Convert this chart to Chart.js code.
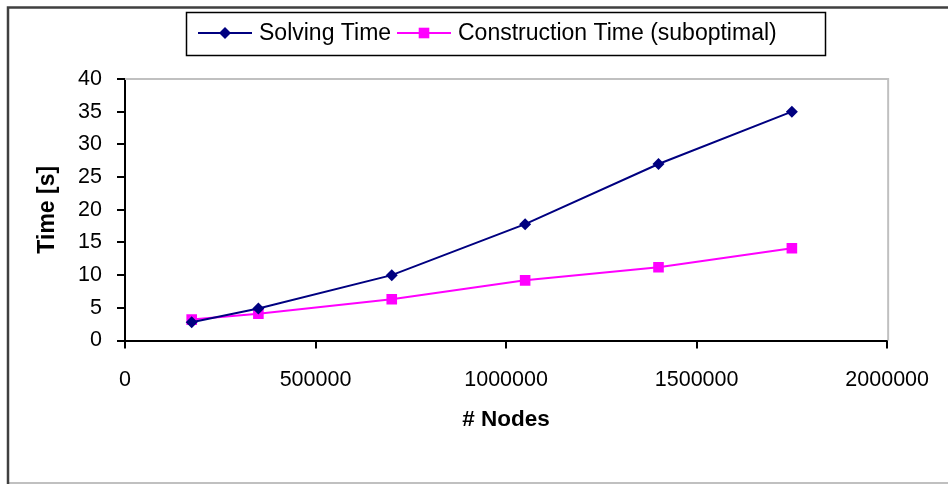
<!DOCTYPE html>
<html>
<head>
<meta charset="utf-8">
<script src="https://cdn.jsdelivr.net/npm/chart.js@4/dist/chart.umd.min.js"></script>
<style>
  html, body { margin: 0; padding: 0; background: #fff; }
  #wrap { width: 948px; height: 485px; }
</style>
</head>
<body>
<div id="wrap"><canvas id="c" width="948" height="485"></canvas></div>
<script>
// Problem size (number of nodes) and the measured times in seconds
const nodes = [175000, 350000, 700000, 1050000, 1400000, 1750000];
const solvingTime = [2.8, 4.9, 10.0, 17.8, 27.0, 35.0];
const constructionTime = [3.2, 4.1, 6.3, 9.2, 11.2, 14.1];
const seriesNames = ['Solving Time', 'Construction Time (suboptimal)'];
const xTicks = [0, 500000, 1000000, 1500000, 2000000];
const yTicks = [0, 5, 10, 15, 20, 25, 30, 35, 40];
const xTitle = '# Nodes';
const yTitle = 'Time [s]';

const FONT = "'Liberation Sans', Arial, Helvetica, sans-serif";
const NAVY = '#000080';
const MAGENTA = '#FF00FF';

function toPoints(xs, ys) {
  return xs.map((x, i) => ({ x: x, y: ys[i] }));
}

function drawMarker(ctx, style, x, y, r, color) {
  ctx.save();
  ctx.fillStyle = color;
  ctx.beginPath();
  if (style === 'rectRot') {
    ctx.moveTo(x, y - r);
    ctx.lineTo(x + r, y);
    ctx.lineTo(x, y + r);
    ctx.lineTo(x - r, y);
  } else {
    const s = r * Math.SQRT1_2;
    ctx.rect(x - s, y - s, 2 * s, 2 * s);
  }
  ctx.closePath();
  ctx.fill();
  ctx.restore();
}

// Outer frame, plot-area outline and the boxed legend
const decor = {
  id: 'decor',
  beforeDraw(chart) {
    const ctx = chart.ctx;
    ctx.save();
    ctx.fillStyle = '#fff';
    ctx.fillRect(0, 0, chart.width, chart.height);
    ctx.strokeStyle = '#c0c0c0';
    ctx.lineWidth = 2;
    ctx.beginPath();
    ctx.moveTo(8, 483);
    ctx.lineTo(chart.width, 483);
    ctx.stroke();
    ctx.strokeStyle = '#404040';
    ctx.lineWidth = 2.5;
    ctx.beginPath();
    ctx.moveTo(8, 484);
    ctx.lineTo(8, 7.5);
    ctx.lineTo(chart.width, 7.5);
    ctx.stroke();
    ctx.restore();
  },
  beforeDatasetsDraw(chart) {
    const { ctx, chartArea: a } = chart;
    ctx.save();
    ctx.strokeStyle = '#c0c0c0';
    ctx.lineWidth = 2;
    ctx.beginPath();
    ctx.moveTo(a.left, a.top);
    ctx.lineTo(a.right + 1, a.top);
    ctx.lineTo(a.right + 1, a.bottom);
    ctx.stroke();
    ctx.restore();
  },
  afterDraw(chart) {
    const ctx = chart.ctx;
    ctx.save();
    ctx.strokeStyle = '#000';
    ctx.lineWidth = 1.5;
    ctx.strokeRect(186.5, 12.5, 639, 43);
    const cy = 33;
    const starts = [198, 397];
    ctx.font = '23px ' + FONT;
    ctx.textBaseline = 'middle';
    ctx.textAlign = 'left';
    chart.data.datasets.forEach((ds, i) => {
      const x0 = starts[i];
      ctx.strokeStyle = ds.borderColor;
      ctx.lineWidth = 2;
      ctx.beginPath();
      ctx.moveTo(x0, cy);
      ctx.lineTo(x0 + 54, cy);
      ctx.stroke();
      drawMarker(ctx, ds.pointStyle, x0 + 27, cy, ds.pointRadius, ds.pointBackgroundColor);
      ctx.fillStyle = '#000';
      ctx.fillText(ds.label, x0 + 61, cy + 1);
    });
    ctx.restore();
  }
};

new Chart(document.getElementById('c'), {
  type: 'line',
  data: {
    datasets: [
      {
        label: seriesNames[0],
        data: toPoints(nodes, solvingTime),
        borderColor: NAVY,
        backgroundColor: NAVY,
        pointBackgroundColor: NAVY,
        pointBorderColor: NAVY,
        pointStyle: 'rectRot',
        pointRadius: 6,
        pointBorderWidth: 0,
        borderWidth: 2,
        tension: 0,
        fill: false
      },
      {
        label: seriesNames[1],
        data: toPoints(nodes, constructionTime),
        borderColor: MAGENTA,
        backgroundColor: MAGENTA,
        pointBackgroundColor: MAGENTA,
        pointBorderColor: MAGENTA,
        pointStyle: 'rect',
        pointRadius: 7.5,
        pointBorderWidth: 0,
        borderWidth: 2,
        tension: 0,
        fill: false
      }
    ]
  },
  options: {
    responsive: false,
    animation: false,
    devicePixelRatio: 1,
    layout: { padding: { top: 79, right: 59, bottom: 0, left: 0 } },
    plugins: {
      legend: { display: false },
      tooltip: { enabled: false }
    },
    scales: {
      x: {
        type: 'linear',
        min: xTicks[0],
        max: xTicks[xTicks.length - 1],
        afterBuildTicks(s) { s.ticks = xTicks.map(v => ({ value: v })); },
        afterFit(s) { s.height = 144.5; },
        ticks: {
          autoSkip: false,
          maxRotation: 0,
          padding: 19,
          color: '#000',
          font: { family: FONT, size: 21.5 },
          callback: v => String(v)
        },
        grid: { display: true, drawOnChartArea: false, drawTicks: true, tickLength: 8, color: '#000', lineWidth: 2 },
        border: { display: true, color: '#000', width: 2 },
        title: {
          display: true,
          text: xTitle,
          color: '#000',
          font: { family: FONT, size: 22.5, weight: 'bold' },
          padding: { top: 0, bottom: 52 }
        }
      },
      y: {
        type: 'linear',
        min: yTicks[0],
        max: yTicks[yTicks.length - 1],
        afterBuildTicks(s) { s.ticks = yTicks.map(v => ({ value: v })); },
        afterFit(s) { s.width = 125; },
        ticks: {
          padding: 15,
          color: '#000',
          font: { family: FONT, size: 21.5 },
          callback: v => String(v)
        },
        grid: { display: true, drawOnChartArea: false, drawTicks: true, tickLength: 8, color: '#000', lineWidth: 2 },
        border: { display: true, color: '#000', width: 2 },
        title: {
          display: true,
          text: yTitle,
          color: '#000',
          font: { family: FONT, size: 23, weight: 'bold' },
          padding: { top: 34, bottom: 0 }
        }
      }
    }
  },
  plugins: [decor]
});
</script>
</body>
</html>
